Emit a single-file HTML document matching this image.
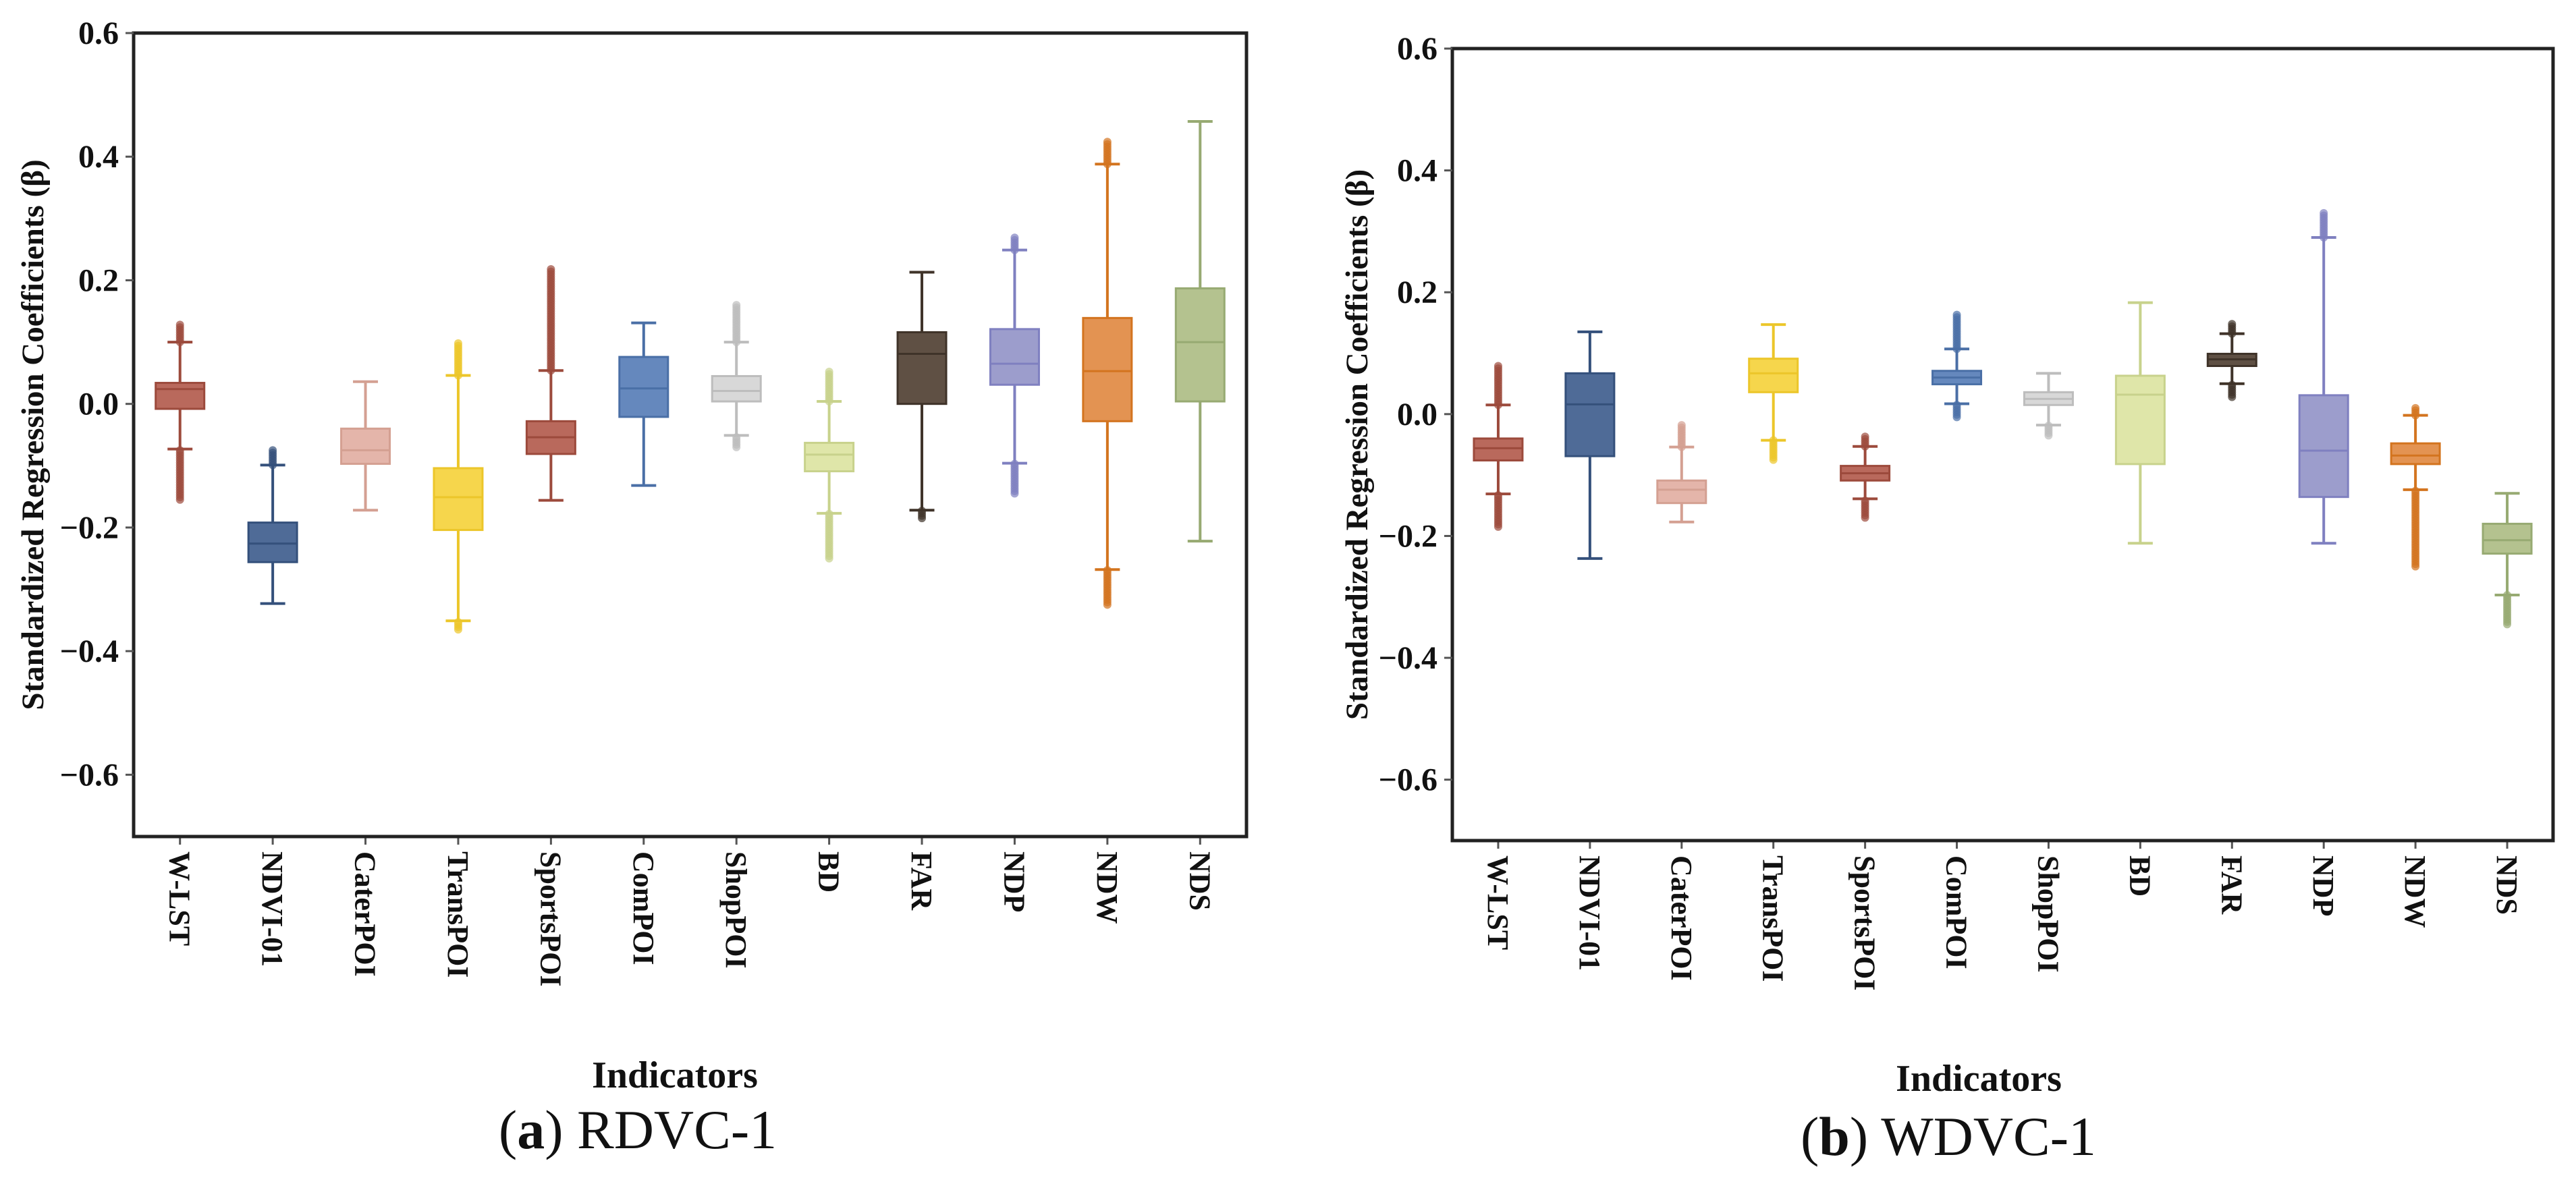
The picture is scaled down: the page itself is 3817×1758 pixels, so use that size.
<!DOCTYPE html>
<html><head><meta charset="utf-8">
<style>
html,body{margin:0;padding:0;background:#fff;}
svg{display:block;}
text{font-family:"Liberation Serif",serif;}
</style></head>
<body>
<svg id="fig" width="3817" height="1758" viewBox="0 0 3817 1758" xmlns="http://www.w3.org/2000/svg"></svg>
<script>
const categories = ["W-LST","NDVI-01","CaterPOI","TransPOI","SportsPOI","ComPOI","ShopPOI","BD","FAR","NDP","NDW","NDS"];
const yTicks = [0.6,0.4,0.2,0.0,-0.2,-0.4,-0.6];
const yTickLabels = ["0.6","0.4","0.2","0.0","\u22120.2","\u22120.4","\u22120.6"];
const fills = ["#b9695c","#4f6b97","#e4b5aa","#f6d64c","#b9695c","#6588bd","#d8d8d8","#dfe6a9","#5f5044","#9c9dcc","#e39352","#b4c28f"];
const strokes = ["#9c4a3c","#34507b","#d4a092","#ecc62a","#9c4a3c","#4a6fa6","#bdbdbd","#c8d28c","#3f3329","#7f80c0","#d3741f","#97aa72"];
// Panel (a) RDVC-1
const aQ1 = [-0.008,-0.256,-0.097,-0.204,-0.081,-0.021,0.004,-0.109,0.0,0.031,-0.028,0.004];
const aMed = [0.024,-0.226,-0.075,-0.151,-0.054,0.025,0.021,-0.082,0.081,0.065,0.053,0.100];
const aQ3 = [0.034,-0.192,-0.040,-0.104,-0.028,0.076,0.045,-0.063,0.116,0.121,0.139,0.187];
const aLo = [-0.073,-0.323,-0.172,-0.351,-0.156,-0.132,-0.051,-0.177,-0.172,-0.096,-0.268,-0.222];
const aHi = [0.100,-0.099,0.036,0.046,0.054,0.131,0.100,0.004,0.213,0.249,0.388,0.457];
const aOutHi = [0.130,-0.075,null,0.100,0.220,null,0.160,0.055,null,0.270,0.425,null];
const aOutLo = [-0.155,null,null,-0.365,null,null,-0.070,-0.250,-0.185,-0.145,-0.325,null];
// Panel (b) WDVC-1
const bQ1 = [-0.076,-0.069,-0.146,0.036,-0.109,0.049,0.015,-0.082,0.079,-0.136,-0.082,-0.229];
const bMed = [-0.056,0.016,-0.124,0.067,-0.097,0.060,0.025,0.032,0.090,-0.060,-0.068,-0.207];
const bQ3 = [-0.040,0.067,-0.109,0.091,-0.085,0.071,0.036,0.063,0.099,0.031,-0.048,-0.180];
const bLo = [-0.131,-0.237,-0.177,-0.043,-0.139,0.017,-0.018,-0.212,0.050,-0.212,-0.124,-0.297];
const bHi = [0.015,0.135,-0.054,0.147,-0.053,0.107,0.067,0.183,0.132,0.290,-0.002,-0.130];
const bOutHi = [0.080,null,-0.015,null,-0.035,0.165,null,null,0.148,0.330,0.012,null];
const bOutLo = [-0.185,null,null,-0.075,-0.170,-0.005,-0.035,null,0.028,null,-0.250,-0.345];

const NS="http://www.w3.org/2000/svg";
const svg=document.getElementById('fig');
function el(tag,attrs,parent){const e=document.createElementNS(NS,tag);for(const k in attrs)e.setAttribute(k,attrs[k]);(parent||svg).appendChild(e);return e;}

function panel(cfg){
  const g=el('g',{});
  
  
  const {x0,x1,y0,y1}=cfg;
  const yScale=v=>y0+(0.6-v)/1.3*(y1-y0);
  const slot=(x1-x0)/categories.length;
  const xScale=i=>x0+(i+0.5)*slot;
  const bw=72, cw=37;
  for(let i=0;i<categories.length;i++){
    const bg=el('g',{},g);
    
    
    const cx=xScale(i), f=fills[i], s=strokes[i];
    const dots=(from,to)=>{const a=Math.min(from,to),b=Math.max(from,to);for(let v=a;v<=b+1e-9;v+=0.004){const c=el('circle',{cx:cx,cy:yScale(v),r:6,fill:s,opacity:0.7},bg);}};
    if(cfg.outHi[i]!==null) dots(cfg.hi[i],cfg.outHi[i]);
    if(cfg.outLo[i]!==null) dots(cfg.lo[i],cfg.outLo[i]);
    const w=el('line',{x1:cx,x2:cx,y1:yScale(cfg.hi[i]),y2:yScale(cfg.lo[i]),stroke:s,'stroke-width':4},bg);
    
    for(const v of [cfg.hi[i],cfg.lo[i]]){const c=el('line',{x1:cx-cw/2,x2:cx+cw/2,y1:yScale(v),y2:yScale(v),stroke:s,'stroke-width':4},bg);}
    const r=el('rect',{x:cx-bw/2,y:yScale(cfg.q3[i]),width:bw,height:Math.max(2,yScale(cfg.q1[i])-yScale(cfg.q3[i])),fill:f,stroke:s,'stroke-width':3},bg);
    
    const m=el('line',{x1:cx-bw/2,x2:cx+bw/2,y1:yScale(cfg.med[i]),y2:yScale(cfg.med[i]),stroke:s,'stroke-width':3},bg);
    
    const t=el('line',{x1:cx,x2:cx,y1:y1,y2:y1+12,stroke:'#555','stroke-width':3},g);
    
    const lx=cx-15, ly=y1+22;
    const tl=el('text',{x:lx,y:ly,transform:`rotate(90 ${lx} ${ly})`,'font-size':44,'font-weight':'bold',fill:'#111'},g);
    tl.textContent=categories[i];
    
  }
  const fr=el('rect',{x:x0,y:y0,width:x1-x0,height:y1-y0,fill:'none',stroke:'#222','stroke-width':5},g);
  
  for(let k=0;k<yTicks.length;k++){
    const y=yScale(yTicks[k]);
    const t=el('line',{x1:x0-12,x2:x0,y1:y,y2:y,stroke:'#555','stroke-width':3},g);
    
    const tl=el('text',{x:x0-22,y:y+16,'text-anchor':'end','font-size':48,'font-weight':'bold',fill:'#111'},g);
    tl.textContent=yTickLabels[k];
    
  }
  const yc=(y0+y1)/2;
  const yl=el('text',{x:cfg.ylx,y:yc,transform:`rotate(-90 ${cfg.ylx} ${yc})`,'text-anchor':'middle','font-size':47,'font-weight':'bold',fill:'#111'},g);
  yl.textContent='Standardized Regression Coefficients (\u03B2)';
  
  const xl=el('text',{x:cfg.xlx,y:cfg.xly,'text-anchor':'middle','font-size':56,'font-weight':'bold',fill:'#111'},g);
  xl.textContent='Indicators';
  
  const cap=el('text',{x:cfg.capx,y:cfg.capy,'text-anchor':'middle','font-size':82,fill:'#111'},g);
  const b=el('tspan',{'font-weight':'bold'},cap);
  cap.insertBefore(document.createTextNode('('),b);
  b.textContent=cfg.letter;
  cap.appendChild(document.createTextNode(') '+cfg.caption));
  
}

panel({name:'panel-a-rdvc1',x0:198,x1:1847,y0:49,y1:1240,ylx:64,xlx:1000,xly:1612,capx:945,capy:1702,letter:'a',caption:'RDVC-1',
  q1:aQ1,med:aMed,q3:aQ3,lo:aLo,hi:aHi,outHi:aOutHi,outLo:aOutLo});
panel({name:'panel-b-wdvc1',x0:2152,x1:3783,y0:72,y1:1246,ylx:2026,xlx:2932,xly:1617,capx:2887,capy:1712,letter:'b',caption:'WDVC-1',
  q1:bQ1,med:bMed,q3:bQ3,lo:bLo,hi:bHi,outHi:bOutHi,outLo:bOutLo});
</script>
</body></html>
